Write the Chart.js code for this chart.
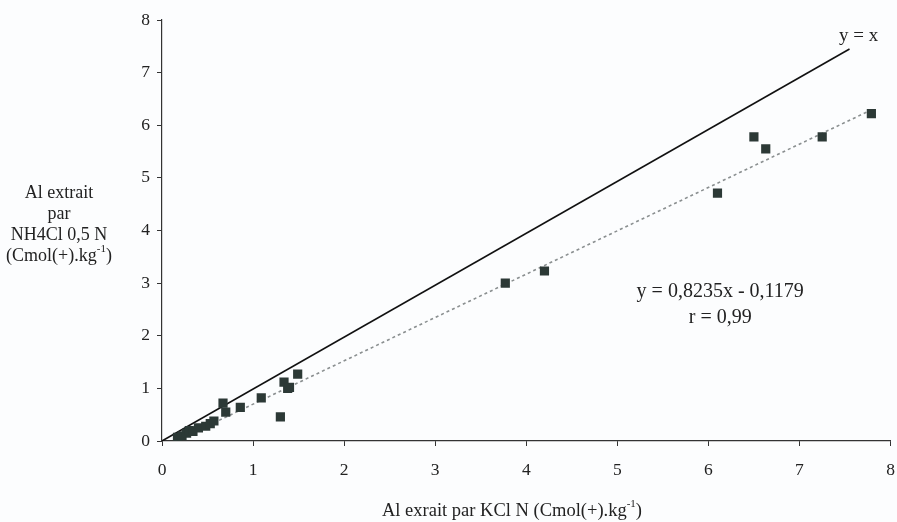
<!DOCTYPE html>
<html>
<head>
<meta charset="utf-8">
<script src="https://cdn.jsdelivr.net/npm/chart.js@4/dist/chart.umd.min.js"></script>
<style>
  html, body { margin: 0; padding: 0; background: #fcfdfe; }
  #wrap { width: 897px; height: 522px; position: relative; }
</style>
</head>
<body>
<div id="wrap"><canvas id="chart"></canvas></div>
<script>
// Al extrait par KCl N (x) et par NH4Cl 0,5 N (y), Cmol(+).kg-1
const kclValues = [0.17, 0.22, 0.27, 0.30, 0.34, 0.40, 0.48, 0.53, 0.57, 0.67, 0.70, 0.86, 1.09,
  1.30, 1.34, 1.38, 1.40, 1.49, 3.77, 4.20, 6.10, 6.50, 6.63, 7.25, 7.79];
const nh4clValues = [0.07, 0.10, 0.15, 0.20, 0.18, 0.25, 0.28, 0.33, 0.38, 0.72, 0.55, 0.64, 0.82,
  0.46, 1.12, 1.00, 1.02, 1.27, 3.00, 3.23, 4.71, 5.78, 5.55, 5.78, 6.22];

// droite y = x et droite de régression (extrémités)
const identityX = [0, 7.55];
const identityY = [0, 7.45];
const regressionX = [0.15, 7.8];
const regressionY = [0.0, 6.3];

const tickValues = [0, 1, 2, 3, 4, 5, 6, 7, 8];

const equationText = 'y = 0,8235x - 0,1179';
const rText = 'r = 0,99';
const identityText = 'y = x';
const yTitleLines = ['Al extrait', 'par', 'NH4Cl 0,5 N'];
const xTitleText = 'Al exrait par KCl N (Cmol(+).kg';

const FONT = '"Liberation Serif", "Times New Roman", serif';
const INK = '#222222';

const toPoints = (xs, ys) => xs.map((x, i) => ({ x: x, y: ys[i] }));

// texte avec exposant "-1" puis ")"
function drawUnitText(ctx, prefix, cx, cy, size) {
  ctx.font = `${size}px ${FONT}`;
  const w1 = ctx.measureText(prefix).width;
  ctx.font = `${Math.round(size * 0.6)}px ${FONT}`;
  const w2 = ctx.measureText('-1').width;
  ctx.font = `${size}px ${FONT}`;
  const w3 = ctx.measureText(')').width;
  let x = cx - (w1 + w2 + w3) / 2;
  ctx.textAlign = 'left';
  ctx.fillText(prefix, x, cy);
  x += w1;
  ctx.font = `${Math.round(size * 0.6)}px ${FONT}`;
  ctx.fillText('-1', x, cy - size * 0.38);
  x += w2;
  ctx.font = `${size}px ${FONT}`;
  ctx.fillText(')', x, cy);
}

const labelsPlugin = {
  id: 'labels',
  afterDraw(chart) {
    const ctx = chart.ctx;
    const xs = chart.scales.x;
    const ys = chart.scales.y;
    ctx.save();
    ctx.fillStyle = INK;
    ctx.textBaseline = 'middle';
    ctx.textAlign = 'center';
    ctx.font = `18px ${FONT}`;

    // titre de l'axe Y (horizontal, centré)
    yTitleLines.forEach((line, i) => {
      ctx.fillText(line, 59, 193 + i * 21);
    });
    drawUnitText(ctx, '(Cmol(+).kg', 59, 256, 18);

    // titre de l'axe X
    drawUnitText(ctx, xTitleText, 512, 511, 18.5);

    // y = x
    ctx.font = `19px ${FONT}`;
    ctx.textAlign = 'left';
    ctx.fillText(identityText, 839, 36);

    // équation
    ctx.font = `20px ${FONT}`;
    ctx.textAlign = 'center';
    ctx.fillText(equationText, xs.getPixelForValue(6.13), ys.getPixelForValue(2.83));
    ctx.fillText(rText, xs.getPixelForValue(6.13), ys.getPixelForValue(2.35));
    ctx.restore();
  }
};

new Chart(document.getElementById('chart'), {
  type: 'scatter',
  data: {
    datasets: [
      {
        label: 'y = x',
        data: toPoints(identityX, identityY),
        showLine: true,
        borderColor: '#111111',
        borderWidth: 1.6,
        pointRadius: 0,
        order: 2,
      },
      {
        label: 'régression',
        data: toPoints(regressionX, regressionY),
        showLine: true,
        borderColor: '#8a8f90',
        borderWidth: 1.6,
        borderDash: [3, 3],
        pointRadius: 0,
        order: 1,
      },
      {
        label: 'mesures',
        data: toPoints(kclValues, nh4clValues),
        pointStyle: 'rect',
        pointRadius: 6.5,
        pointHoverRadius: 6.5,
        backgroundColor: '#2c3936',
        borderColor: '#2c3936',
        borderWidth: 0,
        order: 0,
      },
    ],
  },
  options: {
    responsive: true,
    maintainAspectRatio: false,
    animation: false,
    layout: {
      padding: { left: 118, top: 20, right: 2, bottom: 0 },
    },
    plugins: {
      legend: { display: false },
      tooltip: { enabled: false },
    },
    scales: {
      x: {
        type: 'linear',
        min: 0,
        max: 8,
        afterFit: (scale) => { scale.height = 81; scale.paddingRight = 0; scale.paddingLeft = 0; },
        afterBuildTicks: (scale) => { scale.ticks = tickValues.map((v) => ({ value: v })); },
        grid: { drawOnChartArea: false, drawTicks: true, tickLength: 5, color: '#333333' },
        border: { display: true, color: '#333333', width: 1.2 },
        ticks: { color: INK, font: { family: FONT, size: 17.5 }, padding: 14 },
      },
      y: {
        type: 'linear',
        min: 0,
        max: 8,
        afterFit: (scale) => { scale.width = 44; scale.paddingTop = 0; scale.paddingBottom = 0; },
        afterBuildTicks: (scale) => { scale.ticks = tickValues.map((v) => ({ value: v })); },
        grid: { drawOnChartArea: false, drawTicks: true, tickLength: 5, color: '#333333' },
        border: { display: true, color: '#333333', width: 1.2 },
        ticks: { color: INK, font: { family: FONT, size: 17.5 }, padding: 7 },
      },
    },
  },
  plugins: [labelsPlugin],
});
</script>
</body>
</html>
